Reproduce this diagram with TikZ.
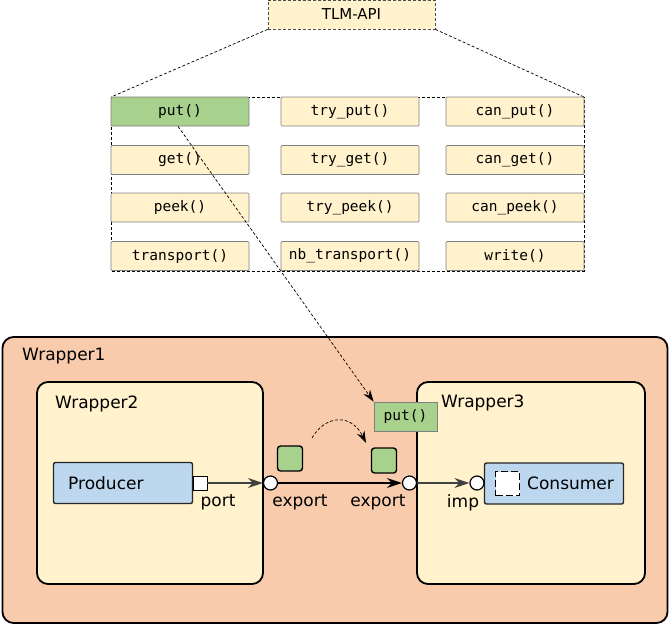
\documentclass[tikz,border=0pt]{standalone}
\usepackage{fontspec}
\setmainfont{DejaVu Sans}
\newfontfamily\monof{DejaVu Sans Mono}
\usetikzlibrary{arrows.meta}
\definecolor{peach}{HTML}{F8CBAD}
\definecolor{cream}{HTML}{FFF2CC}
\definecolor{lblue}{HTML}{BDD7EE}
\definecolor{lgreen}{HTML}{A9D18E}
\definecolor{edgegray}{HTML}{7F7F7F}
\tikzset{
  api/.style={draw=edgegray, line width=0.7pt, fill=cream, minimum width=138pt, minimum height=29pt,
    inner sep=0pt, rounded corners=1pt, font=\monof\fontsize{14.5}{16}\selectfont},
  apigreen/.style={api, fill=lgreen},
  wrapbox/.style={draw=black, line width=1.8pt, rounded corners=11pt, inner sep=0pt},
  comp/.style={draw=black!85, line width=1.4pt, fill=lblue, rounded corners=2pt, inner sep=0pt,
    minimum width=139pt, minimum height=41pt},
  pin/.style={circle, draw=black, line width=1.2pt, fill=white, minimum size=14pt, inner sep=0pt},
  tok/.style={draw=black, line width=1.4pt, fill=lgreen, rounded corners=3pt, minimum size=25pt, inner sep=0pt},
  lbl/.style={font=\fontsize{17}{20}\selectfont, inner sep=0pt},
  conn/.style={line width=1.2pt, draw=black!75, -{Stealth[length=15pt,width=10pt,inset=5pt]}},
  dashconn/.style={line width=0.7pt, dash pattern=on 3pt off 2pt, -{Stealth[length=12pt,width=8pt,inset=4pt]}},
  guide/.style={line width=0.7pt, dash pattern=on 3pt off 2pt}
}
\begin{document}
\begin{tikzpicture}[x=1pt,y=-1pt]
\useasboundingbox (0,0) rectangle (670,625);
% TLM-API part
\node[draw=black!70, guide, fill=cream, minimum width=167pt, minimum height=29pt, inner sep=0pt,
  font=\fontsize{15}{17}\selectfont] (tlm) at (351.5,14.5) {TLM-API};
\coordinate (gtl) at (111,97);
\coordinate (gbr) at (584,271);
\draw[guide] (gtl) rectangle (gbr);
\draw[guide] (tlm.south west) -- (gtl);
\draw[guide] (tlm.south east) -- (gbr |- gtl);
\node[apigreen] (put) at (180,111.5) {put()};
\node[api] (tryput) at (350,111.5) {try\_put()};
\node[api] (canput) at (515,111.5) {can\_put()};
\node[api] (get) at (180,160) {get()};
\node[api] (tryget) at (350,160) {try\_get()};
\node[api] (canget) at (515,160) {can\_get()};
\node[api] (peek) at (180,207.5) {peek()};
\node[api] (trypeek) at (350,207.5) {try\_peek()};
\node[api] (canpeek) at (515,207.5) {can\_peek()};
\node[api] (transport) at (180,256) {transport()};
\node[api] (nbtransport) at (350,256) {nb\_transport()};
\node[api] (write) at (515,256) {write()};
% Wrappers
\node[wrapbox, fill=peach, minimum width=665pt, minimum height=286pt] (w1) at (335,480) {};
\node[lbl, anchor=west] (w1l) at (22,356) {Wrapper1};
\node[wrapbox, fill=cream, minimum width=226pt, minimum height=202pt] (w2) at (150,483) {};
\node[lbl, anchor=west] (w2l) at (55,404) {Wrapper2};
\node[wrapbox, fill=cream, minimum width=228pt, minimum height=202pt] (w3) at (531,483) {};
\node[lbl, anchor=west] (w3l) at (441,403) {Wrapper3};
% components
\node[comp] (prod) at (123,483) {};
\node[lbl, anchor=west] (prodl) at (68,483) {Producer};
\node[draw=black, line width=0.9pt, fill=white, minimum size=14pt, inner sep=0pt] (port) at (200,483) {};
\node[comp] (cons) at (554,483.5) {};
\node[draw=black, line width=1.8pt, dash pattern=on 7pt off 3pt, fill=white, minimum size=24pt, inner sep=0pt] (impsq) at (507.5,483.5) {};
\node[lbl, anchor=west] (consl) at (527,483) {Consumer};
\node[pin] (e1) at (270.5,483) {};
\node[pin] (e2) at (409.5,483) {};
\node[pin] (imp) at (477,483) {};
\node[lbl] (portl) at (218,502.5) {port};
\node[lbl] (e1l) at (300,502.5) {export};
\node[lbl] (e2l) at (378,502.5) {export};
\node[lbl] (impl) at (463,502.5) {imp};
% tokens
\node[tok] (t1) at (290,458.5) {};
\node[tok] (t2) at (384,460.5) {};
\node[draw=edgegray, line width=0.7pt, fill=lgreen, minimum width=63pt, minimum height=29pt, inner sep=0pt,
  font=\monof\fontsize{14.5}{16}\selectfont] (putbox) at (405.5,416.5) {put()};
% connectors
\draw[conn] (port.east) -- (e1.west);
\draw[conn, draw=black] (e1.east) -- (e2.west);
\draw[conn] (e2.east) -- (imp.west);
\draw[dashconn] ([xshift=-2pt]put.south) -- (putbox.north west);
\coordinate (c1) at (312,438);
\coordinate (c2) at (366,443);
\draw[dashconn] (c1) .. controls (326,414) and (352,414) .. (c2);
\end{tikzpicture}
\end{document}
